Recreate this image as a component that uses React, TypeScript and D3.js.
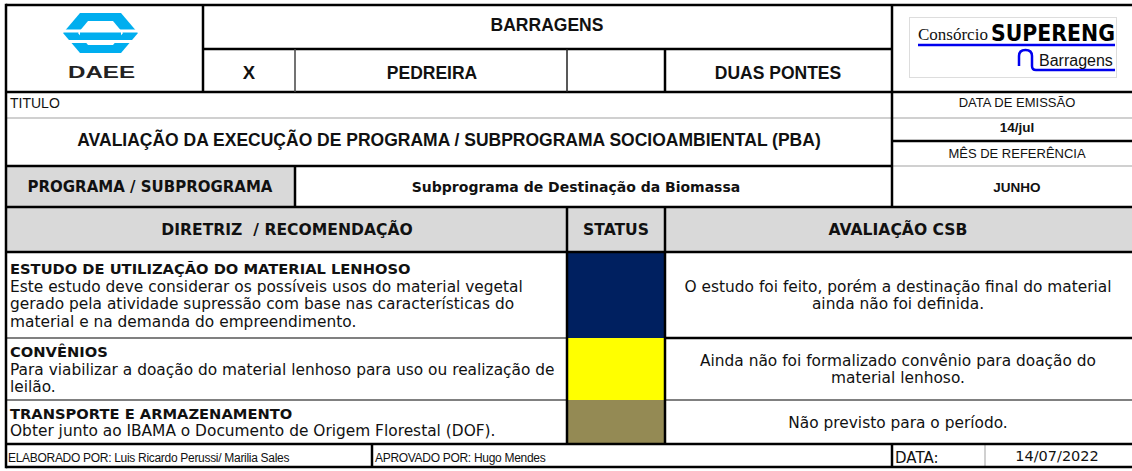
import React from 'react';
import * as d3 from 'd3';

// header labels
const headerTop = 'BARRAGENS';
const headerCells = ['X', 'PEDREIRA', '', 'DUAS PONTES'];
const titleLabel = 'TITULO';
const titleText = 'AVALIAÇÃO DA EXECUÇÃO DE PROGRAMA / SUBPROGRAMA SOCIOAMBIENTAL (PBA)';
const sideLabels = ['DATA DE EMISSÃO', '14/jul', 'MÊS DE REFERÊNCIA', 'JUNHO'];
const programLabel = 'PROGRAMA / SUBPROGRAMA';
const programName = 'Subprograma de Destinação da Biomassa';
const columnHeads = ['DIRETRIZ  / RECOMENDAÇÃO', 'STATUS', 'AVALIAÇÃO CSB'];

// table rows
const rowTitles = [
  'ESTUDO DE UTILIZAÇÃO DO MATERIAL LENHOSO',
  'CONVÊNIOS',
  'TRANSPORTE E ARMAZENAMENTO',
];
const rowDescriptions = [
  [
    'Este estudo deve considerar os possíveis usos do material vegetal',
    'gerado pela atividade supressão com base nas características do',
    'material e na demanda do empreendimento.',
  ],
  ['Para viabilizar a doação do material lenhoso para uso ou realização de', 'leilão.'],
  ['Obter junto ao IBAMA o Documento de Origem Florestal (DOF).'],
];
const rowStatus = ['concluido', 'atencao', 'nao previsto'];
const rowEvaluations = [
  ['O estudo foi feito, porém a destinação final do material', 'ainda não foi definida.'],
  ['Ainda não foi formalizado convênio para doação do', 'material lenhoso.'],
  ['Não previsto para o período.'],
];

// footer
const footerElaborado = 'ELABORADO POR: Luis Ricardo Perussi/ Marilia Sales';
const footerAprovado = 'APROVADO POR: Hugo Mendes';
const footerDataLabel = 'DATA:';
const footerDate = '14/07/2022';

const statusColor = d3
  .scaleOrdinal<string, string>()
  .domain(['concluido', 'atencao', 'nao previsto'])
  .range(['#002060', '#FFFF00', '#948A54']);

const W = 1132;
const H = 471;
const X0 = 6;
const XR = 1140;
const BLACK = '#000';
const ARIAL = '"Liberation Sans", Arial, sans-serif';
const VERDANA = '"DejaVu Sans", Verdana, sans-serif';
const INK = '#111';

// row boundaries of the body
const rowEdges = [252, 338, 400, 444];

function DaeeLogo() {
  const cyan = '#00AEEF';
  return (
    <g>
      <polygon points="80,13 121,13 138,33 121,53 80,53 63,33" fill={cyan} />
      <polygon points="88,21 113,21 123,33 113,45 88,45 78,33" fill="#fff" />
      <rect x={60} y={29.5} width={82} height={3} fill="#fff" />
      <rect x={60} y={40} width={82} height={3} fill="#fff" />
      <rect x={80} y={32.5} width={41} height={7.5} fill={cyan} />
      <text
        x={68}
        y={78}
        fontFamily={ARIAL}
        fontWeight="bold"
        fontSize={17}
        textLength={67}
        lengthAdjust="spacingAndGlyphs"
        fill="#222"
      >
        DAEE
      </text>
    </g>
  );
}

function SuperengLogo() {
  const blue = '#0000EE';
  return (
    <g>
      <rect x={909.5} y={17.5} width={207} height={60} fill="#fff" stroke="#ddd" />
      <text x={918} y={40} fontFamily='"Liberation Serif", "Times New Roman", serif' fontSize={17} fill={INK}>
        Consórcio
      </text>
      <text
        x={991}
        y={41}
        fontFamily={VERDANA}
        fontWeight="bold"
        fontSize={23}
        textLength={124}
        lengthAdjust="spacingAndGlyphs"
        fill="#000"
      >
        SUPERENG
      </text>
      <line x1={918} x2={1115} y1={45} y2={45} stroke={blue} strokeWidth={2.5} />
      <path
        d="M1019,66 L1019,56 Q1019,50 1025.5,50 Q1032,50 1032,56 L1032,66 Q1032,70 1036,70 L1115,70"
        fill="none"
        stroke={blue}
        strokeWidth={2.5}
      />
      <text x={1039} y={66} fontFamily={ARIAL} fontSize={16} fill={INK}>
        Barragens
      </text>
    </g>
  );
}

function HLine({ x1, x2, y, color = BLACK, w = 2.5 }: { x1: number; x2: number; y: number; color?: string; w?: number }) {
  return <line x1={x1} x2={x2} y1={y} y2={y} stroke={color} strokeWidth={w} />;
}
function VLine({ x, y1, y2, color = BLACK, w = 2.5 }: { x: number; y1: number; y2: number; color?: string; w?: number }) {
  return <line x1={x} x2={x} y1={y1} y2={y2} stroke={color} strokeWidth={w} />;
}

export default function App() {
  const headerCenters = [249, 432, 616, 778];
  const sideY = [107, 132, 158, 192];
  const lineGap = 17.5;

  return (
    <svg
      width={W}
      height={H}
      style={{ position: 'fixed', left: 0, top: 0, background: '#fff', display: 'block' }}
    >
      <rect x={0} y={0} width={W} height={H} fill="#fff" />

      {/* gray fills */}
      <rect x={X0} y={166} width={295 - X0} height={41} fill="#D9D9D9" />
      <rect x={X0} y={207} width={XR - X0} height={45} fill="#D9D9D9" />

      {/* status cells */}
      {rowStatus.map((s, i) => (
        <rect
          key={s}
          x={567}
          y={rowEdges[i]}
          width={665 - 567}
          height={rowEdges[i + 1] - rowEdges[i]}
          fill={statusColor(s)}
        />
      ))}

      <DaeeLogo />
      <SuperengLogo />

      {/* header texts */}
      <text x={547} y={31} textAnchor="middle" fontFamily={ARIAL} fontWeight="bold" fontSize={17.5} fill={INK}>
        {headerTop}
      </text>
      {headerCells.map((t, i) => (
        <text
          key={i}
          x={headerCenters[i]}
          y={79}
          textAnchor="middle"
          fontFamily={ARIAL}
          fontWeight="bold"
          fontSize={i === 0 ? 18.5 : 17.5}
          fill={INK}
        >
          {t}
        </text>
      ))}

      {/* title block */}
      <text x={10} y={108} fontFamily={ARIAL} fontSize={14} fill={INK}>
        {titleLabel}
      </text>
      <text x={449} y={146} textAnchor="middle" fontFamily={ARIAL} fontWeight="bold" fontSize={17.5} fill={INK}>
        {titleText}
      </text>
      {sideLabels.map((t, i) => (
        <text
          key={t}
          x={1017}
          y={sideY[i]}
          textAnchor="middle"
          fontFamily={ARIAL}
          fontWeight={i % 2 === 1 ? 'bold' : 'normal'}
          fontSize={i % 2 === 1 ? 13.5 : 13}
          fill={INK}
        >
          {t}
        </text>
      ))}

      {/* program row */}
      <text x={150} y={192} textAnchor="middle" fontFamily={VERDANA} fontWeight="bold" fontSize={15} fill={INK}>
        {programLabel}
      </text>
      <text x={576} y={192} textAnchor="middle" fontFamily={VERDANA} fontWeight="bold" fontSize={14} fill={INK}>
        {programName}
      </text>

      {/* column heads */}
      {columnHeads.map((t, i) => (
        <text
          key={t}
          x={[287, 616, 898][i]}
          y={235}
          textAnchor="middle"
          fontFamily={VERDANA}
          fontWeight="bold"
          fontSize={15.6}
          fill={INK}
          style={{ whiteSpace: 'pre' }}
        >
          {t}
        </text>
      ))}

      {/* body rows */}
      {rowTitles.map((t, i) => {
        const mid = (rowEdges[i] + rowEdges[i + 1]) / 2;
        const leftLines = [t, ...rowDescriptions[i]];
        const leftStart = mid - ((leftLines.length - 1) * lineGap) / 2 + 5.5;
        const evalLines = rowEvaluations[i];
        const evalStart = mid - ((evalLines.length - 1) * lineGap) / 2 + 5.5;
        return (
          <g key={t}>
            {leftLines.map((l, j) => (
              <text
                key={j}
                x={10}
                y={leftStart + j * lineGap}
                fontFamily={VERDANA}
                fontWeight={j === 0 ? 'bold' : 'normal'}
                fontSize={j === 0 ? 14.7 : 15.4}
                fill={INK}
              >
                {l}
              </text>
            ))}
            {evalLines.map((l, j) => (
              <text
                key={j}
                x={898}
                y={evalStart + j * lineGap}
                textAnchor="middle"
                fontFamily={VERDANA}
                fontSize={15.4}
                fill={INK}
              >
                {l}
              </text>
            ))}
          </g>
        );
      })}

      {/* footer */}
      <text x={8} y={462} fontFamily={ARIAL} fontSize={12} fill={INK} letterSpacing={-0.3}>
        {footerElaborado}
      </text>
      <text x={375} y={462} fontFamily={ARIAL} fontSize={12} fill={INK} letterSpacing={-0.3}>
        {footerAprovado}
      </text>
      <text x={895} y={463} fontFamily={VERDANA} fontSize={15} fill={INK}>
        {footerDataLabel}
      </text>
      <text x={1057} y={461} textAnchor="middle" fontFamily={VERDANA} fontSize={14.5} fill={INK}>
        {footerDate}
      </text>

      {/* light grid */}
      <HLine x1={X0} x2={XR} y={118} color="#D0D0D0" w={2} />
      <HLine x1={892} x2={XR} y={166} color="#D0D0D0" w={2} />
      <HLine x1={X0} x2={567} y={rowEdges[1]} color="#808080" w={2} />
      <HLine x1={X0} x2={567} y={rowEdges[2]} color="#808080" w={2} />
      <HLine x1={665} x2={XR} y={rowEdges[2]} color="#808080" w={2} />
      <VLine x={985} y1={444} y2={467} color="#D0D0D0" w={2} />

      {/* black grid */}
      <HLine x1={X0} x2={XR} y={5} />
      <HLine x1={203} x2={892} y={49} />
      <HLine x1={X0} x2={XR} y={92} />
      <HLine x1={892} x2={XR} y={141} />
      <HLine x1={X0} x2={892} y={166} />
      <HLine x1={X0} x2={XR} y={207} />
      <HLine x1={X0} x2={XR} y={252} />
      <HLine x1={665} x2={XR} y={rowEdges[1]} />
      <HLine x1={X0} x2={XR} y={444} />
      <HLine x1={X0} x2={XR} y={467} />

      <VLine x={X0} y1={3.75} y2={468.25} />
      <VLine x={203} y1={5} y2={92} />
      <VLine x={295} y1={49} y2={92} color="#444" w={1.5} />
      <VLine x={567} y1={49} y2={92} color="#222" w={1.5} />
      <VLine x={665} y1={49} y2={92} />
      <VLine x={892} y1={5} y2={207} />
      <VLine x={295} y1={166} y2={207} />
      <VLine x={567} y1={207} y2={444} />
      <VLine x={665} y1={207} y2={444} />
      <VLine x={372} y1={444} y2={467} />
      <VLine x={892} y1={444} y2={467} />
    </svg>
  );
}
